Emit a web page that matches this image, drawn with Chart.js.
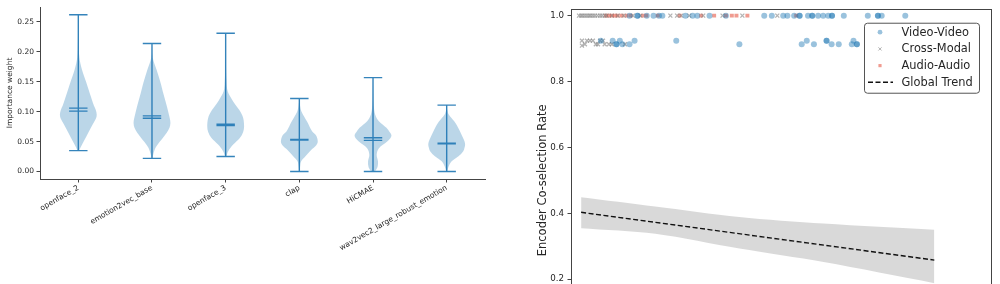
<!DOCTYPE html>
<html>
<head>
<meta charset="utf-8">
<script src="https://cdn.jsdelivr.net/npm/chart.js@4.4.0/dist/chart.umd.min.js"></script>
<style>
  html, body { margin: 0; padding: 0; background: #fff; overflow: hidden; width: 1000px; height: 284px; }
  #left { position: absolute; left: 0; top: 0; }
  #right { position: absolute; left: 500px; top: 0; }
</style>
</head>
<body>
<canvas id="left" width="500" height="284"></canvas>
<canvas id="right" width="500" height="400"></canvas>
<script>
// ---- left panel: importance weights per encoder ----
const encoders = ['openface_2', 'emotion2vec_base', 'openface_3', 'clap', 'HiCMAE', 'wav2vec2_large_robust_emotion'];
const weightMin = [0.035, 0.022, 0.025, 0.0, 0.0, 0.0];
const weightMax = [0.262, 0.214, 0.231, 0.122, 0.157, 0.111];
const weightMean = [0.106, 0.093, 0.079, 0.0535, 0.0565, 0.0475];
const weightMedian = [0.101, 0.089, 0.077, 0.0525, 0.052, 0.0465];
// density outline: levels and relative width (1 = widest)
const densityLevels = [
  [0.035, 0.04, 0.05, 0.065, 0.08, 0.088, 0.095, 0.103, 0.11, 0.13, 0.15, 0.17, 0.19, 0.22, 0.262],
  [0.022, 0.03, 0.04, 0.05, 0.065, 0.073, 0.081, 0.088, 0.095, 0.11, 0.13, 0.15, 0.17, 0.19, 0.214],
  [0.025, 0.034, 0.045, 0.056, 0.066, 0.0755, 0.0895, 0.1, 0.106, 0.12, 0.134, 0.15, 0.19, 0.231],
  [0, 0.008, 0.017, 0.025, 0.036, 0.044, 0.05, 0.06, 0.067, 0.084, 0.1, 0.11, 0.122],
  [0, 0.007, 0.017, 0.028, 0.039, 0.05, 0.055, 0.0605, 0.066, 0.073, 0.084, 0.095, 0.11, 0.13, 0.157],
  [0, 0.008, 0.017, 0.0254, 0.0338, 0.04, 0.0448, 0.05, 0.056, 0.07, 0.084, 0.095, 0.103, 0.111]
];
const densityWidth = [
  [0.05, 0.12, 0.29, 0.54, 0.8, 0.95, 1.0, 0.95, 0.85, 0.63, 0.42, 0.2, 0.06, 0.02, 0],
  [0.02, 0.08, 0.2, 0.43, 0.8, 0.95, 1.0, 0.97, 0.92, 0.8, 0.62, 0.45, 0.25, 0.04, 0],
  [0.03, 0.14, 0.41, 0.77, 0.95, 1.0, 0.95, 0.8, 0.66, 0.35, 0.11, 0.05, 0.01, 0],
  [0.02, 0.04, 0.1, 0.32, 0.64, 0.92, 1.0, 0.92, 0.7, 0.41, 0.12, 0.04, 0],
  [0.1, 0.24, 0.27, 0.2, 0.32, 0.77, 0.93, 1.0, 0.9, 0.73, 0.32, 0.12, 0.04, 0.015, 0],
  [0.03, 0.1, 0.27, 0.64, 0.9, 0.97, 1.0, 0.97, 0.89, 0.68, 0.41, 0.12, 0.03, 0]
];
const weightTicks = [0, 0.05, 0.10, 0.15, 0.20, 0.25];

// ---- right panel: encoder co-selection ----
const videoX = [13.9, 15.8, 15.8, 18.0, 19.6, 20.9, 21.7, 27.2, 28.9, 30.0, 32.9, 36.8, 45.9, 47.7, 50.4, 51.4, 53.0,
  54.3, 54.3, 56.3, 57.3, 57.3, 58.7, 59.9, 61.1, 62.0, 62.0, 64.8, 70.5, 72.9, 72.9, 73.8, 79.4,
  7.1, 9.9, 10.8, 10.8, 11.6, 12.2, 13.9, 15.1, 25.0, 40.0, 54.8, 56.0, 57.7, 60.7, 60.7, 61.9, 63.6, 66.7, 67.1, 67.9, 67.9];
const videoY = [1, 1, 1, 1, 1, 1, 1, 1, 1, 1, 1, 1, 1, 1, 1, 1, 1,
  1, 1, 1, 1, 1, 1, 1, 1, 1, 1, 1, 1, 1, 1, 1, 1,
  0.924, 0.924, 0.913, 0.913, 0.924, 0.913, 0.913, 0.924, 0.924, 0.913, 0.913, 0.924, 0.913, 0.924, 0.924, 0.913, 0.913, 0.913, 0.924, 0.913, 0.913];
const crossX = [1.9, 2.4, 2.8, 3.3, 3.8, 4.3, 4.7, 5.2, 5.7, 6.3, 6.9, 7.4, 8.0, 8.5, 9.7, 11.1, 12.5, 14.7, 16.5,
  23.6, 25.2, 26.2, 28.1, 31.4, 36.0, 40.7, 49.0,
  2.6, 2.6, 3.3, 3.8, 4.5, 5.2, 5.9, 6.4, 6.9, 7.6, 8.0, 9.0, 9.7, 12.8];
const crossY = [1, 1, 1, 1, 1, 1, 1, 1, 1, 1, 1, 1, 1, 1, 1, 1, 1, 1, 1,
  1, 1, 1, 1, 1, 1, 1, 1,
  0.924, 0.909, 0.913, 0.924, 0.924, 0.924, 0.913, 0.913, 0.924, 0.924, 0.913, 0.913, 0.913, 0.913];
const audioX = [8.3, 9.0, 9.7, 10.4, 11.1, 12.1, 13.2, 14.2, 17.0, 17.9, 20.6, 25.8, 30.9, 34.0, 36.8, 38.2, 39.3, 41.9, 53.5];
const audioY = [1, 1, 1, 1, 1, 1, 1, 1, 1, 1, 1, 1, 1, 1, 1, 1, 1, 1, 1];
const trendX = [2.4, 86.3];
const trendY = [0.403, 0.258];
const bandX = [2.4, 20, 40, 60, 86.3];
const bandUpper = [0.449, 0.421, 0.389, 0.369, 0.350];
const bandLower = [0.355, 0.338, 0.293, 0.252, 0.188];
const rateTicks = [0, 0.2, 0.4, 0.6, 0.8, 1.0];

Chart.defaults.font.family = '"DejaVu Sans", sans-serif';
Chart.defaults.color = '#262626';
Chart.defaults.animation = false;

const C0 = 'rgba(31,119,180,0.9)';
const axisColor = '#444';

function zip(xs, ys) { return xs.map((x, i) => ({x: x, y: ys[i]})); }

function violinOutline(i) {
  const pos = i + 1, lv = densityLevels[i], w = densityWidth[i], pts = [];
  for (let k = 0; k < lv.length; k++) pts.push({x: pos + 0.25 * w[k], y: lv[k]});
  for (let k = lv.length - 1; k >= 0; k--) pts.push({x: pos - 0.25 * w[k], y: lv[k]});
  return pts;
}

function violinLines(i) {
  const pos = i + 1, h = 0.125;
  const pts = [{x: pos, y: weightMin[i]}, {x: pos, y: weightMax[i]}];
  [weightMin[i], weightMax[i], weightMean[i], weightMedian[i]].forEach(v => {
    pts.push({x: pos, y: null}, {x: pos - h, y: v}, {x: pos + h, y: v});
  });
  return pts;
}

const leftSets = [];
encoders.forEach((e, i) => {
  leftSets.push({type: 'line', data: violinLines(i), borderColor: C0, borderWidth: 1.4,
    pointRadius: 0, spanGaps: false, fill: false, order: 0});
  leftSets.push({type: 'line', data: violinOutline(i), borderWidth: 0, pointRadius: 0,
    backgroundColor: 'rgba(31,119,180,0.3)', fill: 'shape', tension: 0.35, order: 1});
});

new Chart(document.getElementById('left'), {
  type: 'scatter',
  data: {datasets: leftSets},
  options: {
    responsive: false,
    layout: {padding: {left: 0, top: 7, right: 15, bottom: 0}},
    plugins: {legend: {display: false}, tooltip: {enabled: false}},
    scales: {
      x: {
        type: 'linear', min: 0.48, max: 6.52,
        afterBuildTicks: s => { s.ticks = encoders.map((e, i) => ({value: i + 1})); },
        afterFit: s => { s.height = 105; },
        grid: {drawOnChartArea: false, tickLength: 3.5, color: axisColor},
        border: {color: axisColor, width: 1},
        ticks: {autoSkip: false, minRotation: 30, maxRotation: 30, padding: 1, font: {size: 7.5},
          callback: v => encoders[v - 1]}
      },
      y: {
        min: -0.0125, max: 0.275,
        afterBuildTicks: s => { s.ticks = weightTicks.map(v => ({value: v})); },
        afterFit: s => { s.width = 40; },
        grid: {drawOnChartArea: false, tickLength: 3.5, color: axisColor},
        border: {color: axisColor, width: 1},
        ticks: {font: {size: 7.5}, padding: 2.5, callback: v => v.toFixed(2)},
        title: {display: true, text: 'Importance weight', font: {size: 7.5}, padding: {top: 5.5, bottom: 0}}
      }
    }
  }
});

// frame around the right plot
const framePlugin = {
  id: 'frame',
  afterDraw(chart) {
    const a = chart.chartArea, ctx = chart.ctx;
    ctx.save();
    ctx.strokeStyle = axisColor;
    ctx.lineWidth = 1;
    ctx.strokeRect(Math.round(a.left) + 0.5, Math.round(a.top) + 0.5,
      Math.round(a.right - a.left) - 1, Math.round(a.bottom - a.top));
    ctx.restore();
  }
};

// boxed legend in the upper right corner
const legendPlugin = {
  id: 'boxLegend',
  afterDraw(chart) {
    const a = chart.chartArea, ctx = chart.ctx;
    const x0 = a.right - 128, y0 = a.top + 14, w = 115, h = 70;
    ctx.save();
    ctx.beginPath();
    ctx.roundRect(x0 + 0.5, y0 + 0.5, w, h, 3);
    ctx.fillStyle = 'rgba(255,255,255,0.85)';
    ctx.fill();
    ctx.strokeStyle = '#555';
    ctx.lineWidth = 1;
    ctx.stroke();
    ctx.font = '11.4px "DejaVu Sans", sans-serif';
    ctx.textBaseline = 'middle';
    chart.data.datasets.filter(d => d.legend).forEach((d, k) => {
      const y = y0 + 9.5 + k * 16.7, mx = x0 + 16;
      if (d.type === 'line') {
        ctx.strokeStyle = d.borderColor;
        ctx.lineWidth = d.borderWidth;
        ctx.setLineDash(d.borderDash);
        ctx.beginPath();
        ctx.moveTo(x0 + 4, y);
        ctx.lineTo(x0 + 29, y);
        ctx.stroke();
        ctx.setLineDash([]);
      } else {
        ctx.fillStyle = d.backgroundColor;
        ctx.strokeStyle = d.borderColor;
        Chart.helpers.drawPoint(ctx, {pointStyle: d.pointStyle, radius: d.pointRadius * 0.8,
          borderWidth: d.borderWidth, rotation: 0}, mx, y);
      }
      ctx.fillStyle = '#262626';
      ctx.fillText(d.label, x0 + 37.5, y + 0.5);
    });
    ctx.restore();
  }
};

new Chart(document.getElementById('right'), {
  type: 'scatter',
  data: {
    datasets: [
      {label: 'Video-Video', legend: true, data: zip(videoX, videoY), pointStyle: 'circle', pointRadius: 3,
        backgroundColor: 'rgba(31,119,180,0.45)', borderColor: 'rgba(31,119,180,0.45)', borderWidth: 0, order: 0},
      {label: 'Cross-Modal', legend: true, data: zip(crossX, crossY), pointStyle: 'crossRot', pointRadius: 2.8,
        backgroundColor: 'rgba(128,128,128,0.6)', borderColor: 'rgba(128,128,128,0.6)', borderWidth: 1.3, order: 1},
      {label: 'Audio-Audio', legend: true, data: zip(audioX, audioY), pointStyle: 'rect', pointRadius: 2.8,
        backgroundColor: 'rgba(228,72,52,0.55)', borderColor: 'rgba(228,72,52,0.55)', borderWidth: 0, order: 1},
      {label: 'Global Trend', legend: true, type: 'line', data: zip(trendX, trendY), borderColor: '#111',
        borderWidth: 1.4, borderDash: [5, 2.5], pointRadius: 0, fill: false, order: 2},
      {label: 'CI upper', type: 'line', data: zip(bandX, bandUpper), borderWidth: 0, pointRadius: 0,
        backgroundColor: 'rgba(0,0,0,0.15)', fill: '+1', tension: 0.3, order: 3},
      {label: 'CI lower', type: 'line', data: zip(bandX, bandLower), borderWidth: 0, pointRadius: 0,
        fill: false, tension: 0.3, order: 3}
    ]
  },
  options: {
    responsive: false,
    layout: {padding: {left: 32, top: 8, right: 8, bottom: 48}},
    plugins: {legend: {display: false}, tooltip: {enabled: false}},
    scales: {
      x: {type: 'linear', min: 0, max: 100, display: false},
      y: {
        min: -0.021, max: 1.021,
        afterBuildTicks: s => { s.ticks = rateTicks.map(v => ({value: v})); },
        afterFit: s => { s.width = 39; },
        grid: {drawOnChartArea: false, tickLength: 3.5, color: axisColor},
        border: {display: false},
        ticks: {font: {size: 8.7}, padding: 3.5, callback: v => v.toFixed(1)},
        title: {display: true, text: 'Encoder Co-selection Rate', font: {size: 11.5}, padding: {top: 4, bottom: 0}}
      }
    }
  },
  plugins: [framePlugin, legendPlugin]
});
</script>
</body>
</html>
